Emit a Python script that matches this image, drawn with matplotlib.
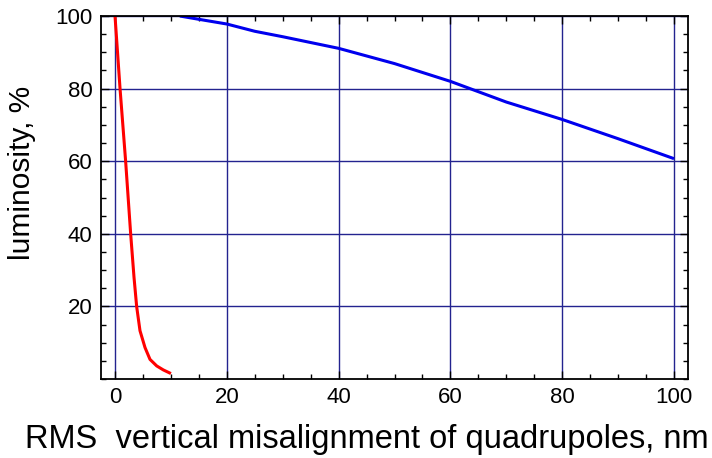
import numpy as np
import matplotlib
matplotlib.use("Agg")
import matplotlib.pyplot as plt
from matplotlib.ticker import MultipleLocator

plt.rcParams['font.family'] = ['Liberation Sans', 'DejaVu Sans']

# blue curve
blue_x = [11.6, 15, 20, 25, 30, 40, 50, 60, 70, 80, 90, 100]
blue_y = [100, 99.1, 97.8, 95.8, 94.3, 91.1, 86.9, 82.0, 76.3, 71.5, 66.2, 60.7]

# red curve
red_x = [0, 0.9, 1.9, 2.8, 3.4, 3.87, 4.47, 5.37, 6.26, 7.46, 8.64, 10.0]
red_y = [100, 80, 60, 40, 28, 20, 13.3, 8.65, 5.4, 3.6, 2.5, 1.5]

xticks = [0, 20, 40, 60, 80, 100]
yticks = [20, 40, 60, 80, 100]

fig = plt.figure(figsize=(7.12, 4.58), dpi=100)
ax = fig.add_axes([0.1419, 0.1725, 0.8244, 0.7925])

ax.set_xlim(-2.5, 102.5)
ax.set_ylim(0, 100)
ax.set_xticks(xticks)
ax.set_yticks(yticks)
ax.xaxis.set_minor_locator(MultipleLocator(5))
ax.yaxis.set_minor_locator(MultipleLocator(5))
ax.tick_params(which='both', direction='in', top=True, right=True, width=1)
ax.tick_params(which='major', length=6, labelsize=16, pad=6)
ax.tick_params(which='minor', length=3.5)
for s in ax.spines.values():
    s.set_linewidth(1.3)

ax.grid(True, which='major', color='#23238f', linewidth=1.0)
ax.set_axisbelow(True)

ax.plot(blue_x, blue_y, color='#0000ee', linewidth=2.2, solid_capstyle='butt')
ax.plot(red_x, red_y, color='#ff0000', linewidth=2.2, solid_capstyle='butt',
        solid_joinstyle='round')

fig.text(0.031, 0.622, "luminosity, %", fontsize=21.5, rotation=90,
         ha='center', va='center')
fig.text(0.035, 0.0218, "RMS  vertical misalignment of quadrupoles, nm", fontsize=23.5,
         ha='left', va='baseline')

fig.savefig("out.png", dpi=100)
